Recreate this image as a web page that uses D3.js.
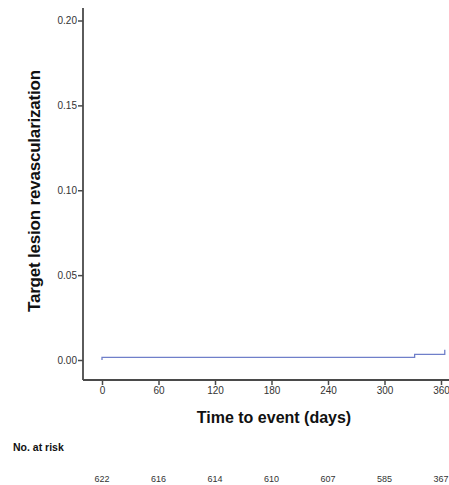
<!DOCTYPE html>
<html>
<head>
<meta charset="utf-8">
<script src="https://cdn.jsdelivr.net/npm/d3@7"></script>
<style>
  body { margin: 0; background: #fff; }
  svg { display: block; font-family: "Liberation Sans", Arial, sans-serif; }
</style>
</head>
<body>
<svg id="chart"></svg>
<script>
// cumulative incidence steps (days, value)
const eventDays = [0, 0, 332, 364]
const eventValues = [0, 0.0016, 0.0033, 0.0060]

const xTicks = [0, 60, 120, 180, 240, 300, 360]
const yTicks = [0, 0.05, 0.10, 0.15, 0.20]

// number at risk
const riskDays = [0, 60, 120, 180, 240, 300, 360]
const riskCounts = [622, 616, 614, 610, 607, 585, 367]

const width = 449, height = 485
const axisLeftX = 83, axisBottomY = 380, axisTopY = 8

const svg = d3.select('#chart')
  .attr('width', width)
  .attr('height', height)

const x = d3.scaleLinear().domain([0, 360]).range([102, 441])
const y = d3.scaleLinear().domain([0, 0.2]).range([360, 20.5])

const axisColor = '#4a4a4a'

// y axis
const yAxis = svg.append('g')
  .attr('transform', 'translate(' + axisLeftX + ',0)')
  .call(d3.axisLeft(y).tickValues(yTicks).tickFormat(d3.format('.2f')).tickSize(5).tickSizeOuter(0))
yAxis.select('.domain').remove()
yAxis.selectAll('.tick line').attr('stroke', axisColor).attr('stroke-width', 1.5)
yAxis.selectAll('.tick text')
  .attr('fill', '#333').attr('font-size', 10).attr('x', -6)
  .attr('font-family', '"Liberation Sans", Arial, sans-serif')
svg.append('line')
  .attr('x1', axisLeftX).attr('x2', axisLeftX)
  .attr('y1', axisTopY).attr('y2', axisBottomY)
  .attr('stroke', axisColor).attr('stroke-width', 1.8)

// x axis
const xAxis = svg.append('g')
  .attr('transform', 'translate(0,' + axisBottomY + ')')
  .call(d3.axisBottom(x).tickValues(xTicks).tickSize(5).tickSizeOuter(0))
xAxis.select('.domain').remove()
xAxis.selectAll('.tick line').attr('stroke', axisColor).attr('stroke-width', 1.5)
xAxis.selectAll('.tick text')
  .attr('fill', '#333').attr('font-size', 10).attr('y', 7)
  .attr('font-family', '"Liberation Sans", Arial, sans-serif')
svg.append('line')
  .attr('x1', axisLeftX).attr('x2', width)
  .attr('y1', axisBottomY).attr('y2', axisBottomY)
  .attr('stroke', axisColor).attr('stroke-width', 1.8)

// step curve
const pts = eventDays.map((d, i) => [d, eventValues[i]])
svg.append('path')
  .datum(pts)
  .attr('fill', 'none')
  .attr('stroke', '#6f7fc9')
  .attr('stroke-width', 1.3)
  .attr('d', d3.line()
    .curve(d3.curveStepAfter)
    .x(d => x(d[0]))
    .y(d => y(d[1])))

// axis titles
svg.append('text')
  .attr('transform', 'translate(40,191) rotate(-90)')
  .attr('text-anchor', 'middle')
  .attr('font-size', 17).attr('font-weight', 'bold').attr('fill', '#111')
  .attr('letter-spacing', -0.2)
  .text('Target lesion revascularization')

svg.append('text')
  .attr('x', 274).attr('y', 423)
  .attr('text-anchor', 'middle')
  .attr('font-size', 16).attr('font-weight', 'bold').attr('fill', '#111')
  .text('Time to event (days)')

// number at risk
svg.append('text')
  .attr('x', 13).attr('y', 451)
  .attr('font-size', 10.5).attr('font-weight', 'bold').attr('fill', '#111')
  .text('No. at risk')

svg.selectAll('.risk')
  .data(riskCounts)
  .enter().append('text')
  .attr('class', 'risk')
  .attr('x', (d, i) => x(riskDays[i]))
  .attr('y', 482)
  .attr('text-anchor', 'middle')
  .attr('font-size', 9).attr('fill', '#333')
  .text(d => d)
</script>
</body>
</html>
